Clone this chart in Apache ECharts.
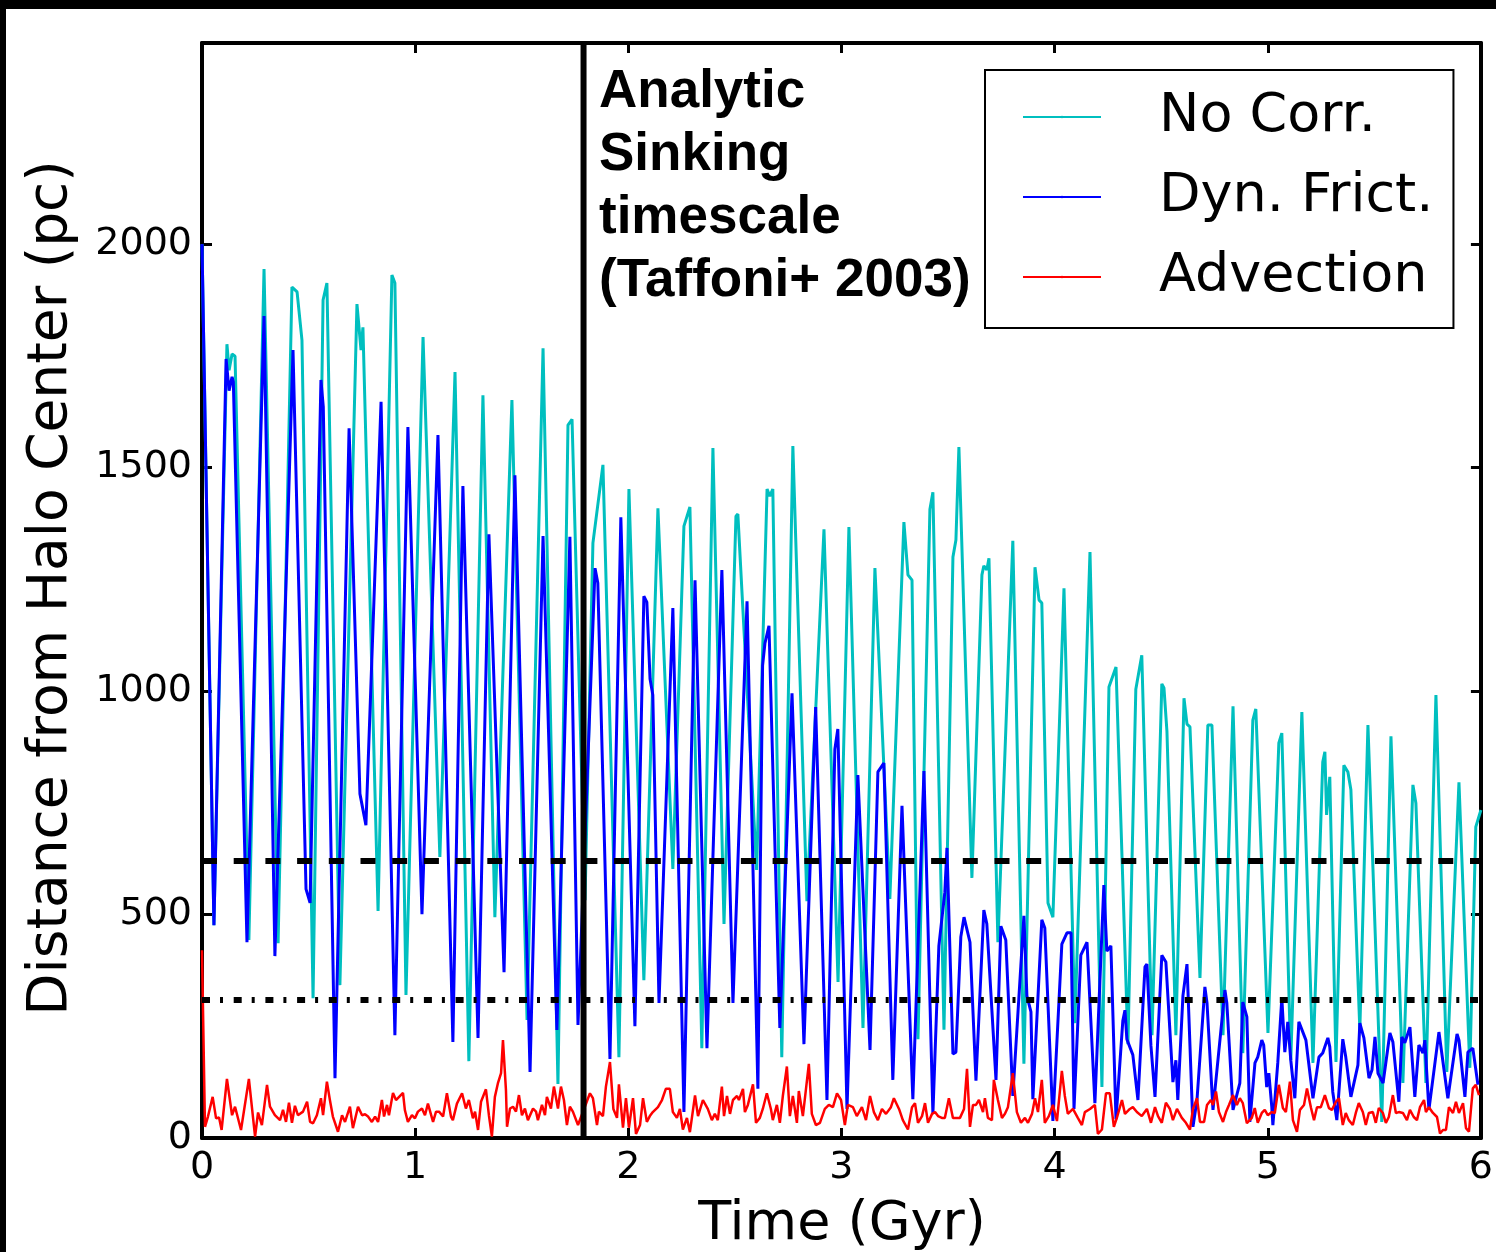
<!DOCTYPE html>
<html>
<head>
<meta charset="utf-8">
<script src="https://cdn.jsdelivr.net/npm/echarts@6/dist/echarts.min.js"></script>
<style>
  html, body { margin: 0; padding: 0; background: #fff; }
  #main { width: 1496px; height: 1252px; }
</style>
</head>
<body>
<div id="main"></div>
<script>
// time in Gyr, distance in pc
var noCorr = [
  [0,2000],[0.056,476],[0.117,1776],[0.127,1718],[0.141,1754],[0.155,1749],[0.220,443],[0.291,1944],[0.357,436],
  [0.422,1904],[0.446,1893],[0.469,1785],[0.521,313],[0.568,1875],[0.586,1913],[0.647,342],[0.727,1866],[0.746,1763],
  [0.755,1814],[0.826,508],[0.891,1931],[0.905,1913],[0.957,320],[1.037,1792],[1.116,629],[1.187,1714],[1.252,172],
  [1.318,1662],[1.374,494],[1.454,1651],[1.525,264],[1.600,1767],[1.670,121],[1.717,1595],[1.736,1608],[1.797,532],
  [1.834,1331],[1.881,1506],[1.956,181],[2.003,1452],[2.073,353],[2.139,1409],[2.209,602],[2.261,1369],[2.289,1412],
  [2.345,201],[2.397,1544],[2.449,479],[2.505,1391],[2.514,1396],[2.602,600],[2.651,1452],[2.664,1436],[2.678,1452],
  [2.720,181],[2.772,1548],[2.838,530],[2.918,1362],[2.984,349],[3.035,1367],[3.101,246],[3.157,1275],[3.227,535],
  [3.293,1378],[3.312,1260],[3.331,1248],[3.359,221],[3.415,1407],[3.429,1445],[3.481,242],[3.523,1300],[3.537,1338],
  [3.551,1546],[3.612,582],[3.659,1260],[3.668,1280],[3.682,1271],[3.692,1297],[3.734,438],[3.804,1336],[3.856,166],
  [3.908,1277],[3.927,1204],[3.940,1197],[3.969,526],[3.992,494],[4.044,1230],[4.095,257],[4.166,1311],[4.222,114],
  [4.255,1009],[4.288,1054],[4.344,210],[4.381,1004],[4.409,1080],[4.457,230],[4.503,1016],[4.513,1007],[4.527,910],
  [4.569,230],[4.607,984],[4.621,926],[4.635,920],[4.682,358],[4.719,924],[4.738,924],[4.790,230],[4.837,966],
  [4.883,190],[4.930,935],[4.944,960],[5.001,235],[5.052,884],[5.066,906],[5.108,174],[5.160,953],[5.212,168],
  [5.258,841],[5.268,864],[5.276,723],[5.291,808],[5.320,170],[5.357,834],[5.376,819],[5.390,779],[5.432,242],
  [5.470,924],[5.535,36],[5.578,899],[5.634,123],[5.681,790],[5.695,749],[5.742,123],[5.789,991],[5.840,148],
  [5.897,796],[5.948,157],[5.976,696],[6.000,734]
];

var dynFrict = [
  [0,2000],[0.056,476],[0.113,1743],[0.127,1672],[0.141,1703],[0.147,1692],[0.211,438],[0.291,1839],[0.342,407],
  [0.427,1763],[0.488,557],[0.507,526],[0.558,1696],[0.569,1636],[0.624,134],[0.690,1588],[0.741,770],[0.769,700],
  [0.840,1647],[0.905,230],[0.966,1591],[1.032,501],[1.107,1573],[1.177,215],[1.224,1459],[1.295,224],[1.346,1351],
  [1.417,371],[1.468,1483],[1.539,148],[1.600,1347],[1.665,242],[1.726,1345],[1.764,253],[1.844,1275],[1.857,1242],
  [1.914,177],[1.965,1389],[2.031,250],[2.073,1212],[2.087,1199],[2.102,1027],[2.115,991],[2.144,302],[2.209,1186],
  [2.261,58],[2.313,1248],[2.369,201],[2.439,1271],[2.491,302],[2.557,1201],[2.608,110],[2.630,1057],[2.641,1107],
  [2.660,1146],[2.711,246],[2.768,995],[2.824,210],[2.879,964],[2.932,85],[2.969,870],[2.983,915],[3.026,65],
  [3.077,812],[3.134,197],[3.171,819],[3.199,839],[3.241,130],[3.284,743],[3.335,87],[3.387,821],[3.429,54],
  [3.457,430],[3.485,550],[3.495,649],[3.523,188],[3.537,192],[3.560,450],[3.575,494],[3.603,438],[3.631,128],
  [3.668,510],[3.682,479],[3.725,130],[3.748,474],[3.771,443],[3.804,94],[3.856,497],[3.870,318],[3.889,282],
  [3.898,87],[3.940,488],[3.954,470],[3.992,38],[4.034,434],[4.058,459],[4.077,459],[4.091,65],[4.123,409],
  [4.152,438],[4.189,78],[4.231,566],[4.245,418],[4.264,430],[4.288,42],[4.320,262],[4.330,286],[4.339,221],
  [4.367,186],[4.391,85],[4.424,383],[4.433,389],[4.452,206],[4.471,92],[4.503,409],[4.522,394],[4.555,125],
  [4.569,174],[4.578,85],[4.602,318],[4.621,389],[4.649,25],[4.668,85],[4.705,338],[4.715,302],[4.743,63],
  [4.799,331],[4.808,302],[4.837,63],[4.869,123],[4.883,304],[4.902,271],[4.916,36],[4.940,168],[4.953,181],
  [4.972,219],[4.981,208],[4.995,114],[5.005,145],[5.019,69],[5.024,29],[5.047,168],[5.066,313],[5.080,192],
  [5.094,260],[5.108,174],[5.127,89],[5.146,260],[5.179,219],[5.212,89],[5.240,181],[5.258,190],[5.282,224],
  [5.291,204],[5.305,103],[5.324,40],[5.352,221],[5.366,181],[5.390,92],[5.423,163],[5.432,257],[5.451,224],
  [5.475,134],[5.489,152],[5.503,226],[5.517,145],[5.541,123],[5.573,235],[5.587,215],[5.615,81],[5.629,226],
  [5.643,213],[5.667,248],[5.690,92],[5.709,208],[5.728,190],[5.737,219],[5.756,63],[5.803,237],[5.845,89],
  [5.888,233],[5.897,219],[5.925,92],[5.939,192],[5.962,201],[5.986,119]
];

var advection = [
  [0,420],[0.014,25],[0.028,48],[0.050,92],[0.066,44],[0.080,46],[0.092,18],[0.117,132],[0.141,51],[0.155,70],
  [0.183,18],[0.220,132],[0.249,3],[0.263,57],[0.281,29],[0.305,119],[0.319,70],[0.342,51],[0.366,40],[0.380,63],
  [0.394,36],[0.408,79],[0.422,34],[0.436,72],[0.450,51],[0.474,59],[0.493,81],[0.507,36],[0.521,33],[0.539,51],
  [0.558,89],[0.568,51],[0.586,126],[0.600,85],[0.614,48],[0.638,14],[0.657,51],[0.671,36],[0.694,70],[0.708,22],
  [0.732,70],[0.751,51],[0.765,53],[0.779,48],[0.797,36],[0.812,48],[0.826,36],[0.844,85],[0.854,48],[0.868,74],
  [0.877,51],[0.896,101],[0.910,85],[0.919,81],[0.943,101],[0.952,62],[0.966,36],[0.985,51],[0.999,44],[1.013,59],
  [1.032,66],[1.046,51],[1.060,77],[1.084,36],[1.098,59],[1.112,59],[1.131,48],[1.149,100],[1.168,48],[1.177,40],
  [1.196,77],[1.220,100],[1.238,66],[1.252,85],[1.271,44],[1.281,59],[1.295,18],[1.309,81],[1.332,109],[1.346,51],
  [1.360,3],[1.374,92],[1.388,122],[1.403,145],[1.412,219],[1.426,107],[1.431,25],[1.445,66],[1.459,70],[1.473,59],
  [1.487,96],[1.501,51],[1.515,66],[1.529,40],[1.553,66],[1.567,59],[1.576,40],[1.595,74],[1.609,51],[1.618,92],
  [1.637,66],[1.651,115],[1.670,66],[1.684,115],[1.698,85],[1.712,29],[1.726,70],[1.740,59],[1.764,29],[1.820,100],
  [1.834,89],[1.853,29],[1.862,59],[1.881,49],[1.895,115],[1.914,170],[1.930,65],[1.947,45],[1.956,120],[1.975,23],
  [1.989,89],[2.003,23],[2.022,89],[2.036,9],[2.055,29],[2.069,89],[2.087,36],[2.101,49],[2.115,58],[2.139,69],
  [2.158,85],[2.176,110],[2.195,110],[2.209,58],[2.228,45],[2.242,65],[2.256,19],[2.275,45],[2.289,13],[2.313,95],
  [2.327,49],[2.350,85],[2.373,65],[2.392,40],[2.406,54],[2.420,40],[2.439,115],[2.449,49],[2.463,94],[2.477,54],
  [2.491,85],[2.510,94],[2.519,85],[2.538,110],[2.547,58],[2.561,74],[2.585,120],[2.599,34],[2.617,45],[2.631,65],
  [2.650,100],[2.669,65],[2.678,40],[2.697,74],[2.711,34],[2.725,94],[2.744,160],[2.758,49],[2.772,94],[2.791,34],
  [2.800,105],[2.819,49],[2.847,166],[2.861,54],[2.880,29],[2.899,34],[2.922,65],[2.941,74],[2.960,69],[2.979,100],
  [2.998,85],[3.016,29],[3.030,74],[3.054,69],[3.072,49],[3.096,69],[3.115,40],[3.134,94],[3.152,58],[3.171,40],
  [3.190,65],[3.209,54],[3.232,69],[3.246,89],[3.270,65],[3.288,40],[3.312,19],[3.331,69],[3.345,78],[3.359,34],
  [3.378,49],[3.392,78],[3.406,34],[3.425,54],[3.439,58],[3.453,49],[3.471,45],[3.485,45],[3.504,89],[3.523,45],
  [3.537,45],[3.556,45],[3.575,65],[3.589,155],[3.603,25],[3.617,74],[3.631,74],[3.645,85],[3.664,58],[3.673,89],
  [3.687,45],[3.706,40],[3.715,130],[3.734,85],[3.753,45],[3.767,54],[3.781,69],[3.804,145],[3.823,58],[3.842,34],
  [3.861,45],[3.875,34],[3.894,54],[3.908,89],[3.922,58],[3.940,130],[3.954,34],[3.973,49],[3.992,74],[4.011,38],
  [4.034,150],[4.048,94],[4.062,54],[4.086,65],[4.109,45],[4.128,29],[4.142,58],[4.166,65],[4.189,74],[4.203,9],
  [4.222,19],[4.241,100],[4.259,100],[4.278,25],[4.292,45],[4.316,85],[4.330,54],[4.353,65],[4.367,69],[4.386,58],
  [4.409,49],[4.433,65],[4.452,34],[4.471,69],[4.485,49],[4.503,34],[4.522,79],[4.541,65],[4.555,40],[4.574,65],
  [4.597,45],[4.616,34],[4.635,19],[4.649,65],[4.668,89],[4.682,36],[4.701,36],[4.715,74],[4.733,85],[4.743,74],
  [4.757,104],[4.771,58],[4.790,36],[4.804,58],[4.818,74],[4.837,96],[4.855,74],[4.869,89],[4.883,78],[4.902,33],
  [4.925,45],[4.939,67],[4.953,34],[4.972,56],[4.986,63],[5.000,51],[5.019,58],[5.033,56],[5.052,119],[5.071,67],
  [5.085,58],[5.104,126],[5.118,40],[5.137,14],[5.151,63],[5.170,74],[5.184,111],[5.203,67],[5.217,40],[5.231,69],
  [5.249,69],[5.268,96],[5.287,67],[5.301,63],[5.320,81],[5.334,89],[5.352,29],[5.366,56],[5.380,40],[5.399,29],
  [5.413,56],[5.427,78],[5.446,58],[5.460,29],[5.474,56],[5.493,58],[5.507,34],[5.521,67],[5.540,56],[5.554,34],
  [5.568,47],[5.587,96],[5.601,56],[5.615,58],[5.634,56],[5.653,40],[5.667,63],[5.685,47],[5.700,40],[5.714,69],
  [5.733,85],[5.742,58],[5.756,69],[5.775,56],[5.794,47],[5.808,10],[5.822,18],[5.836,18],[5.850,69],[5.869,56],
  [5.883,81],[5.897,56],[5.916,78],[5.930,22],[5.944,14],[5.962,111],[5.976,119],[5.991,96]
];

// reference lines
var sinkTime = 1.79;        // Gyr, analytic sinking timescale
var dashedLevel = 620;      // pc
var dashDotLevel = 309;     // pc
var xTicks = [0, 6, 1];     // min, max, interval
var yTicks = [0, 2450, 500];

var myChart = echarts.init(document.getElementById('main'));

var tickFont = { fontFamily: 'DejaVu Sans', fontSize: 38, color: '#000' };
var frameLine = { onZero: false, lineStyle: { color: '#000', width: 4 } };
var frameTick = { inside: true, length: 10, lineStyle: { color: '#000', width: 3 } };

option = {
    animation: false,
    backgroundColor: '#fff',
    grid: { left: 202, top: 43, width: 1279, height: 1095 },
    legend: {
        data: ['No Corr.', 'Dyn. Frict.', 'Advection'],
        orient: 'vertical',
        left: 985,
        top: 70,
        padding: [17, 20, 21, 37],
        backgroundColor: '#fff',
        borderColor: '#000',
        borderWidth: 2,
        borderRadius: 0,
        itemWidth: 78,
        itemHeight: 3,
        itemGap: 20,
        textStyle: {
            fontFamily: 'DejaVu Sans',
            fontSize: 54,
            color: '#000',
            lineHeight: 60,
            padding: [0, 0, 0, 53]
        }
    },
    xAxis: [{
        type: 'value', min: xTicks[0], max: xTicks[1], interval: xTicks[2],
        axisLine: frameLine, axisTick: frameTick,
        axisLabel: Object.assign({ margin: 11 }, tickFont),
        splitLine: { show: false }
    }, {
        type: 'value', position: 'top', min: xTicks[0], max: xTicks[1], interval: xTicks[2],
        axisLine: frameLine, axisTick: frameTick,
        axisLabel: { show: false },
        splitLine: { show: false }
    }],
    yAxis: [{
        type: 'value', min: yTicks[0], max: yTicks[1], interval: yTicks[2],
        axisLine: frameLine, axisTick: frameTick,
        axisLabel: Object.assign({ margin: 10, showMaxLabel: false,
            formatter: function (v) { return String(v); } }, tickFont),
        splitLine: { show: false }
    }, {
        type: 'value', position: 'right', min: yTicks[0], max: yTicks[1], interval: yTicks[2],
        axisLine: frameLine, axisTick: frameTick,
        axisLabel: { show: false },
        splitLine: { show: false }
    }],
    graphic: [
        { type: 'rect', shape: { x: 0, y: 0, width: 1496, height: 9 }, style: { fill: '#000' }, z: 100 },
        { type: 'rect', shape: { x: 0, y: 0, width: 6, height: 1252 }, style: { fill: '#000' }, z: 100 },
        {
            type: 'text', x: 842, y: 1225, z: 100,
            style: { text: 'Time (Gyr)', font: '54px "DejaVu Sans"', fill: '#000',
                     textAlign: 'center', textVerticalAlign: 'middle' }
        },
        {
            type: 'text', x: 52, y: 588, rotation: Math.PI / 2, z: 100,
            style: { text: 'Distance from Halo Center (pc)', font: '55px "DejaVu Sans"', fill: '#000',
                     textAlign: 'center', textVerticalAlign: 'middle' }
        },
        {
            type: 'text', x: 599, y: 61, z: 100,
            style: { text: 'Analytic\nSinking\ntimescale\n(Taffoni+ 2003)',
                     font: 'bold 53px "Liberation Sans"', lineHeight: 63, fill: '#000',
                     textAlign: 'left', textVerticalAlign: 'top' }
        }
    ],
    series: [{
        name: 'No Corr.', type: 'line', data: noCorr, symbol: 'none',
        lineStyle: { color: '#00BFBF', width: 3 }, itemStyle: { color: '#00BFBF' }, z: 2
    }, {
        name: 'Dyn. Frict.', type: 'line', data: dynFrict, symbol: 'none',
        lineStyle: { color: '#0000FF', width: 3 }, itemStyle: { color: '#0000FF' }, z: 3
    }, {
        name: 'Advection', type: 'line', data: advection, symbol: 'none',
        lineStyle: { color: '#FF0000', width: 2.5 }, itemStyle: { color: '#FF0000' }, z: 4
    }, {
        name: 'dashed', type: 'line', symbol: 'none', silent: true, z: 5,
        data: [[xTicks[0], dashedLevel], [xTicks[1], dashedLevel]],
        lineStyle: { color: '#000', width: 6, type: [15, 16.7] }
    }, {
        name: 'dashdot', type: 'line', symbol: 'none', silent: true, z: 5,
        data: [[xTicks[0], dashDotLevel], [xTicks[1], dashDotLevel]],
        lineStyle: { color: '#000', width: 6, type: [8, 10, 3, 10.7] }
    }, {
        name: 'sink', type: 'line', symbol: 'none', silent: true, z: 5,
        data: [[sinkTime, yTicks[0]], [sinkTime, yTicks[1]]],
        lineStyle: { color: '#000', width: 6 }
    }]
};

myChart.setOption(option);
</script>
</body>
</html>
